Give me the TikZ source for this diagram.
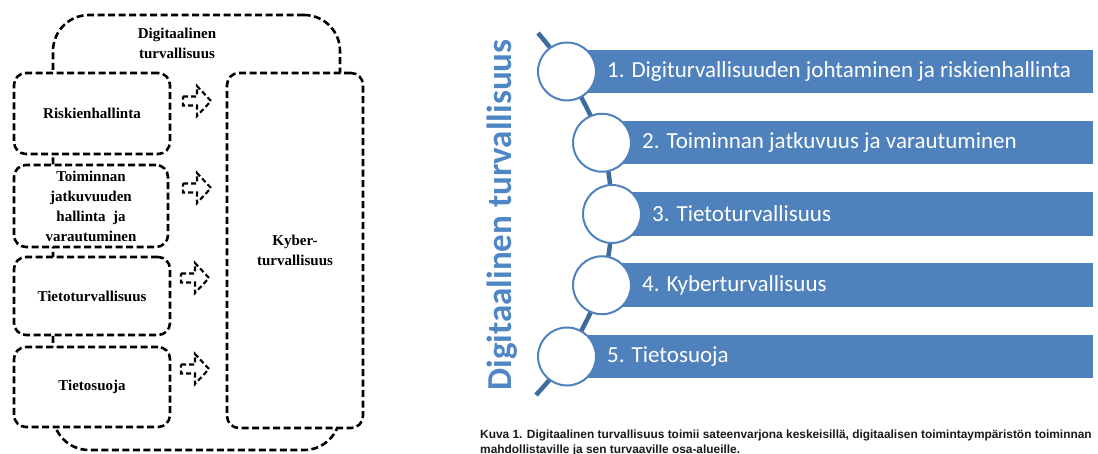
\documentclass[tikz,border=0pt]{standalone}
\usepackage{fontspec}
\setmainfont{Liberation Serif}
\newfontfamily\calfont{Carlito}
\newfontfamily\arialfont{Liberation Sans}
\definecolor{barblue}{HTML}{4F81BD}
\definecolor{spineblue}{HTML}{3D6B9E}
\definecolor{titleblue}{HTML}{4F86C6}
\begin{document}
\begin{tikzpicture}[x=1pt,y=-1pt,
  dline/.style={draw=black, dash pattern=on 7pt off 3.5pt, line width=2.6pt},
  dbox/.style={dline, rounded corners=12pt, fill=white, align=center,
    font=\bfseries\fontsize{15}{20}\selectfont, inner sep=0pt},
  umb/.style={dline, rounded corners=36pt},
  darr/.style={draw=black, dash pattern=on 5pt off 3pt, line width=2.1pt},
  circ/.style={circle, draw=barblue, line width=2pt, fill=white, minimum size=58pt, inner sep=0pt},
  bartext/.style={anchor=west, inner sep=0pt, text=white, font=\calfont\fontsize{23}{27}\selectfont}
]
\useasboundingbox (0,0) rectangle (1098,454);
\clip (0,0) rectangle (1098,454);

% ---------- left diagram ----------
\node[umb, minimum width=287pt, minimum height=435pt] (umbrella) at (196.5,232.5) {};
\node[align=center, inner sep=0pt, font=\bfseries\fontsize{15}{20}\selectfont] (dt) at (177,43) {Digitaalinen\\turvallisuus};

\node[dbox, minimum width=156pt, minimum height=81pt] (risk) at (92,113.5) {Riskienhallinta};
\node[dbox, minimum width=154pt, minimum height=82pt] (toim) at (91,206) {Toiminnan\\jatkuvuuden\\hallinta\ \ ja\\varautuminen};
\node[dbox, minimum width=156pt, minimum height=78pt] (tieto) at (92,296) {Tietoturvallisuus};
\node[dbox, minimum width=156pt, minimum height=80pt] (suoja) at (92,387) {Tietosuoja};
\node[dbox, minimum width=136pt, minimum height=355pt] (kyber) at (295,250.5) {Kyber-\\turvallisuus};

\foreach \xo/\c in {183/101, 183/188, 181/278, 181/369} {
  \draw[darr] (\xo,\c-4.5) -- (\xo+14,\c-4.5) -- (\xo+14,\c-15) -- (\xo+28,\c)
    -- (\xo+14,\c+15) -- (\xo+14,\c+4.5) -- (\xo,\c+4.5) -- cycle;
}

% ---------- right diagram ----------
\draw[spineblue, line width=4.5pt] plot[smooth] coordinates {(538,33) (567,71.5) (602,142.75) (612,214) (602,285.25) (567,356.5) (536,395)};

\foreach \i/\cx/\cy/\t in {
  1/567/71.5/{1. Digiturvallisuuden johtaminen ja riskienhallinta},
  2/602/142.75/{2. Toiminnan jatkuvuus ja varautuminen},
  3/612/214/{3. Tietoturvallisuus},
  4/602/285.25/{4. Kyberturvallisuus},
  5/567/356.5/{5. Tietosuoja}} {
  \fill[barblue] (\cx,\cy-21.75) rectangle (1093,\cy+21.75);
  \node[circ] (c\i) at (\cx,\cy) {};
  \node[bartext] (t\i) at (\cx+40,\cy) {\t};
}

\node[rotate=90, inner sep=0pt, text=titleblue, font=\calfont\bfseries\fontsize{35}{40}\selectfont] (title) at (502,215) {Digitaalinen turvallisuus};

\node[anchor=base west, inner sep=0pt, text=black!90, font=\arialfont\bfseries\fontsize{11.9}{13}\selectfont] (cap1) at (480,438) {Kuva 1. Digitaalinen turvallisuus toimii sateenvarjona keskeisillä, digitaalisen toimintaympäristön toiminnan};
\node[anchor=base west, inner sep=0pt, text=black!90, font=\arialfont\bfseries\fontsize{11.9}{13}\selectfont] (cap2) at (480,453) {mahdollistaville ja sen turvaaville osa-alueille.};
\end{tikzpicture}
\end{document}
